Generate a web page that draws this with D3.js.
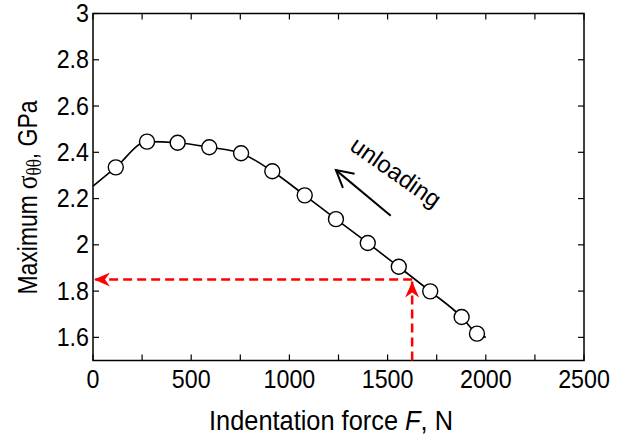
<!DOCTYPE html>
<html>
<head>
<meta charset="utf-8">
<script src="https://cdn.jsdelivr.net/npm/d3@7"></script>
<style>
  body { margin: 0; background: #fff; }
  text { font-family: "Liberation Sans", Arial, sans-serif; fill: #000; }
</style>
</head>
<body>
<div id="chart"></div>
<script>
// markers
var forceN = [116, 275, 431, 592, 754, 913, 1078, 1237, 1399, 1557, 1717, 1877, 1955];
var stressGPa = [2.335, 2.446, 2.441, 2.422, 2.396, 2.318, 2.214, 2.111, 2.008, 1.905, 1.799, 1.688, 1.616];

// fitted curve: same points plus its two ends
var curveForce = [0].concat(forceN, [2000]);
var curveStress = [2.254].concat(stressGPa, [1.6]);

var xTicks = [0, 500, 1000, 1500, 2000, 2500];
var xMinorTicks = [250, 750, 1250, 1750, 2250];
var yTicks = [1.6, 1.8, 2, 2.2, 2.4, 2.6, 2.8, 3];

// read-off annotation (red dashed arrows)
var readForce = 1625;
var readStress = 1.85;

// "unloading" arrow, tail -> head
var unloadForce = [1516, 1237];
var unloadStress = [2.126, 2.323];

const WIDTH = 618;
const HEIGHT = 436;
const LEFT = 93, RIGHT = 584, TOP = 13.5, BOTTOM = 360.5;

var translate = function(x, y){
  return "translate(" + x + "," + y + ")";
};

var xScale = d3.scaleLinear().domain([0, 2500]).range([LEFT, RIGHT]);
var yScale = d3.scaleLinear().domain([1.5, 3]).range([BOTTOM, TOP]);

var svg = d3.select('#chart').append('svg')
  .attr('width', WIDTH)
  .attr('height', HEIGHT);

var TICK = 6;

// frame
svg.append('rect')
  .attr('x', LEFT).attr('y', TOP)
  .attr('width', RIGHT - LEFT).attr('height', BOTTOM - TOP)
  .attr('fill', 'none').attr('stroke', '#000').attr('stroke-width', 1.5);

// inward ticks on all sides
var allX = xTicks.concat(xMinorTicks);
svg.append('g').selectAll('line.xb').data(allX).enter().append('line')
  .attr('x1', d => xScale(d)).attr('x2', d => xScale(d))
  .attr('y1', BOTTOM).attr('y2', BOTTOM - TICK)
  .attr('stroke', '#000').attr('stroke-width', 1.2);
svg.append('g').selectAll('line.xt').data(allX).enter().append('line')
  .attr('x1', d => xScale(d)).attr('x2', d => xScale(d))
  .attr('y1', TOP).attr('y2', TOP + TICK)
  .attr('stroke', '#000').attr('stroke-width', 1.2);
svg.append('g').selectAll('line.yl').data(yTicks).enter().append('line')
  .attr('y1', d => yScale(d)).attr('y2', d => yScale(d))
  .attr('x1', LEFT).attr('x2', LEFT + TICK)
  .attr('stroke', '#000').attr('stroke-width', 1.2);
svg.append('g').selectAll('line.yr').data(yTicks).enter().append('line')
  .attr('y1', d => yScale(d)).attr('y2', d => yScale(d))
  .attr('x1', RIGHT).attr('x2', RIGHT - TICK)
  .attr('stroke', '#000').attr('stroke-width', 1.2);

// tick labels (the original type is a bit narrow)
svg.append('g').selectAll('text').data(xTicks).enter().append('text')
  .attr('transform', d => translate(xScale(d), 388) + ' scale(0.93,1)')
  .attr('text-anchor', 'middle')
  .style('font-size', '25px')
  .text(d => d);
svg.append('g').selectAll('text').data(yTicks).enter().append('text')
  .attr('transform', d => translate(89, yScale(d) + 8.5) + ' scale(0.93,1)')
  .attr('text-anchor', 'end')
  .style('font-size', '25px')
  .text(d => d);

// axis titles
var xt = svg.append('text')
  .attr('transform', translate(331, 430) + ' scale(0.94,1)')
  .attr('text-anchor', 'middle')
  .style('font-size', '27px');
xt.append('tspan').text('Indentation force ');
xt.append('tspan').style('font-style', 'italic').text('F');
xt.append('tspan').text(', N');

var serif = '"Liberation Serif", "Times New Roman", serif';
var yt = svg.append('text')
  .attr('transform', translate(37, 197.5) + ' rotate(-90) scale(0.85,1)')
  .attr('text-anchor', 'middle')
  .style('font-size', '27px');
yt.append('tspan').text('Maximum');
yt.append('tspan').attr('dx', 7).style('font-family', serif).style('font-size', '30px').text('σ');
yt.append('tspan').attr('dy', 4).style('font-family', serif).style('font-size', '20px').text('θθ');
yt.append('tspan').attr('dy', -4).text(',   GPa');

// red read-off arrows
var red = '#ff0000';
var defs = svg.append('defs');
defs.append('marker')
  .attr('id', 'redHead')
  .attr('viewBox', '0 0 16 14')
  .attr('refX', 16).attr('refY', 7)
  .attr('markerWidth', 16).attr('markerHeight', 14)
  .attr('markerUnits', 'userSpaceOnUse')
  .attr('orient', 'auto')
  .append('path')
  .attr('d', 'M0,0 L16,7 L0,14 L5,7 Z')
  .attr('fill', red);

svg.append('line')
  .attr('x1', xScale(readForce)).attr('y1', yScale(readStress))
  .attr('x2', xScale(0) + 1).attr('y2', yScale(readStress))
  .attr('stroke', red).attr('stroke-width', 2.5)
  .attr('stroke-dasharray', '9,5')
  .attr('marker-end', 'url(#redHead)');
svg.append('line')
  .attr('x1', xScale(readForce)).attr('y1', yScale(1.5))
  .attr('x2', xScale(readForce)).attr('y2', yScale(readStress) + 2)
  .attr('stroke', red).attr('stroke-width', 2.5)
  .attr('stroke-dasharray', '9,5')
  .attr('marker-end', 'url(#redHead)');

// fitted curve
var curveData = curveForce.map((f, i) => [f, curveStress[i]]);
var line = d3.line()
  .x(d => xScale(d[0]))
  .y(d => yScale(d[1]))
  .curve(d3.curveMonotoneX);
svg.append('path')
  .attr('d', line(curveData))
  .attr('fill', 'none').attr('stroke', '#000').attr('stroke-width', 1.6);

// markers
svg.append('g').selectAll('circle').data(forceN).enter().append('circle')
  .attr('cx', d => xScale(d))
  .attr('cy', (d, i) => yScale(stressGPa[i]))
  .attr('r', 7.5)
  .attr('fill', '#fff').attr('stroke', '#000').attr('stroke-width', 1.4);

// unloading arrow
var x0 = xScale(unloadForce[0]), y0 = yScale(unloadStress[0]);
var x1 = xScale(unloadForce[1]), y1 = yScale(unloadStress[1]);
var ang = Math.atan2(y0 - y1, x0 - x1);
var wing = 19, spread = 0.5;
svg.append('line')
  .attr('x1', x0).attr('y1', y0).attr('x2', x1).attr('y2', y1)
  .attr('stroke', '#000').attr('stroke-width', 2);
svg.append('path')
  .attr('d', 'M' + (x1 + wing * Math.cos(ang + spread)) + ',' + (y1 + wing * Math.sin(ang + spread)) +
    'L' + x1 + ',' + y1 +
    'L' + (x1 + wing * Math.cos(ang - spread)) + ',' + (y1 + wing * Math.sin(ang - spread)))
  .attr('fill', 'none').attr('stroke', '#000').attr('stroke-width', 2);

svg.append('text')
  .attr('transform', translate(396, 172) + ' rotate(35)')
  .attr('text-anchor', 'middle')
  .attr('dy', '0.35em')
  .style('font-size', '24px')
  .text('unloading');
</script>
</body>
</html>
